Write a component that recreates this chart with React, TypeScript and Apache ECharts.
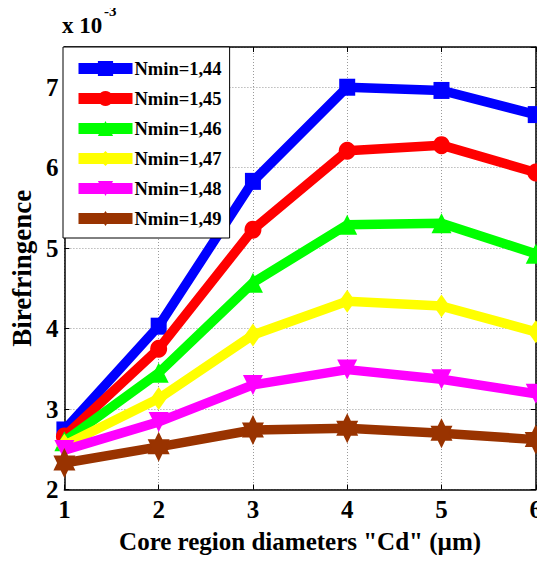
import React, { useEffect, useRef } from "react";
import * as echarts from "echarts";

const xValues = [1, 2, 3, 4, 5, 6];
const seriesNames = ["Nmin=1,44", "Nmin=1,45", "Nmin=1,46", "Nmin=1,47", "Nmin=1,48", "Nmin=1,49"];
const n144 = [2.74, 4.03, 5.83, 7.0, 6.96, 6.66];
const n145 = [2.66, 3.75, 5.23, 6.21, 6.28, 5.94];
const n146 = [2.6, 3.45, 4.57, 5.29, 5.31, 4.93];
const n147 = [2.55, 3.13, 3.92, 4.34, 4.28, 3.96];
const n148 = [2.49, 2.84, 3.3, 3.49, 3.37, 3.19];
const n149 = [2.33, 2.53, 2.74, 2.76, 2.7, 2.62];
const yTicks = [2, 3, 4, 5, 6, 7];

const colors = ["#0000ff", "#ff0000", "#00ff00", "#ffff00", "#ff00ff", "#993300"];
const hexagram =
  "path://M0,-10L2.887,-5L8.66,-5L5.77,0L8.66,5L2.887,5L0,10L-2.887,5L-8.66,5L-5.77,0L-8.66,-5L-2.887,-5Z";
const symbols = ["rect", "circle", "triangle", "diamond", "triangle", hexagram];
const rotations = [0, 0, 0, 0, 180, 0];
const sizes = [[16, 17], [17, 18], [20, 20], [16, 23], [20, 20], [22, 30]];

const FONT = "Liberation Serif";

export default function App() {
  const ref = useRef<HTMLDivElement>(null);
  useEffect(() => {
    const chart = echarts.init(ref.current!, null, { renderer: "svg" });
    const data = [n144, n145, n146, n147, n148, n149];
    const gridLine = { show: true, lineStyle: { color: "#9a9a9a", type: [1, 2], width: 1 } };
    chart.setOption({
      animation: false,
      backgroundColor: "#ffffff",
      grid: { left: 61, right: 9, top: 47, bottom: 73.5, containLabel: false },
      legend: {
        orient: "vertical",
        left: 63,
        top: 47,
        padding: [12, 8, 10, 10],
        itemGap: 11,
        itemWidth: 54,
        itemHeight: 19,
        backgroundColor: "#ffffff",
        borderColor: "#000000",
        borderWidth: 1,
        textStyle: {
          fontFamily: FONT,
          fontWeight: "bold",
          fontSize: 18.5,
          lineHeight: 19,
          color: "#000",
          padding: [0, 0, 0, -3],
        },
        lineStyle: { width: 11 },
        data: seriesNames,
      },
      graphic: [
        {
          type: "text",
          left: 62,
          top: 14,
          style: { text: "x 10", fontFamily: FONT, fontWeight: "bold", fontSize: 23, fill: "#000" },
        },
        {
          type: "text",
          left: 104,
          top: 3,
          style: { text: "-3", fontFamily: FONT, fontWeight: "bold", fontSize: 15, fill: "#000" },
        },
      ],
      xAxis: [
        {
          type: "value",
          min: 1,
          max: 6,
          interval: 1,
          name: 'Core region diameters "Cd" (µm)',
          nameLocation: "middle",
          nameGap: 39,
          nameTextStyle: { fontFamily: FONT, fontWeight: "bold", fontSize: 25, color: "#000" },
          axisLine: { show: true, lineStyle: { color: "#000", width: 1.5 } },
          axisTick: { show: true, inside: true, length: 5, lineStyle: { color: "#000" } },
          axisLabel: { fontFamily: FONT, fontWeight: "bold", fontSize: 25, color: "#000", margin: 7 },
          splitLine: gridLine,
        },
        {
          type: "value",
          position: "top",
          min: 1,
          max: 6,
          interval: 1,
          axisLine: { show: true, lineStyle: { color: "#000", width: 1.5 } },
          axisTick: { show: true, inside: true, length: 5, lineStyle: { color: "#000" } },
          axisLabel: { show: false },
          splitLine: { show: false },
        },
      ],
      yAxis: [
        {
          type: "value",
          min: 2,
          max: 7.5,
          interval: 1,
          name: "Birefringence",
          nameLocation: "middle",
          nameGap: 27,
          nameTextStyle: { fontFamily: FONT, fontWeight: "bold", fontSize: 27, color: "#000" },
          axisLine: { show: true, lineStyle: { color: "#000", width: 1.5 } },
          axisTick: { show: true, inside: true, length: 5, lineStyle: { color: "#000" } },
          axisLabel: {
            fontFamily: FONT,
            fontWeight: "bold",
            fontSize: 25,
            color: "#000",
            margin: 6,
            formatter: (v: number) => (yTicks.includes(v) ? String(v) : ""),
          },
          splitLine: gridLine,
        },
        {
          type: "value",
          position: "right",
          min: 2,
          max: 7.5,
          interval: 1,
          axisLine: { show: true, lineStyle: { color: "#000", width: 1.5 } },
          axisTick: { show: true, inside: true, length: 5, lineStyle: { color: "#000" } },
          axisLabel: { show: false },
          splitLine: { show: false },
        },
      ],
      series: seriesNames.map((name, i) => ({
        name,
        type: "line",
        data: xValues.map((x, j) => [x, data[i][j]]),
        symbol: symbols[i],
        symbolSize: sizes[i],
        symbolRotate: rotations[i],
        showAllSymbol: true,
        lineStyle: { color: colors[i], width: 9.5 },
        itemStyle: { color: colors[i] },
        z: 2 + i,
      })),
    });
    return () => chart.dispose();
  }, []);
  return <div ref={ref} style={{ width: 545, height: 563, margin: -8 }} />;
}
